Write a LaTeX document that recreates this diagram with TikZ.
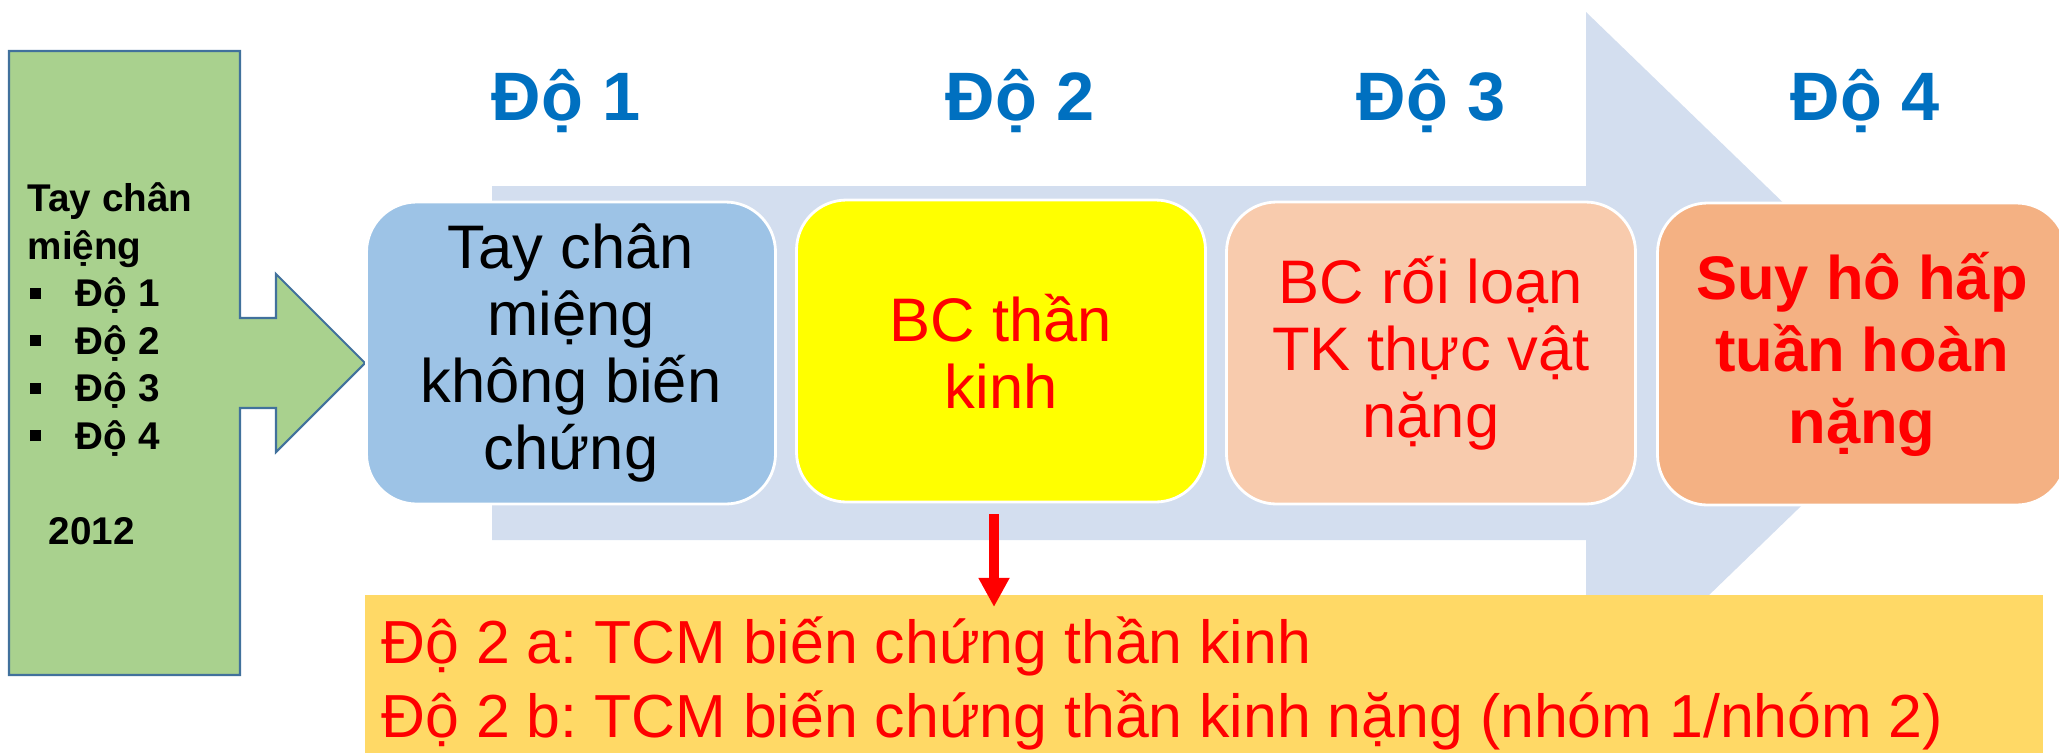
\documentclass[tikz,border=0pt]{standalone}
\usepackage{fontspec}
\setmainfont{Liberation Sans}
\usepackage{xcolor}
\usetikzlibrary{arrows.meta}

\definecolor{bandblue}{HTML}{D3DEEF}
\definecolor{stageone}{HTML}{9DC3E6}
\definecolor{stagetwo}{HTML}{FFFF00}
\definecolor{stagethree}{HTML}{F8CBAD}
\definecolor{stagefour}{HTML}{F4B183}
\definecolor{leafgreen}{HTML}{A9D18E}
\definecolor{edgeblue}{HTML}{41719C}
\definecolor{noteyellow}{HTML}{FFD966}
\definecolor{headblue}{HTML}{0070C0}

\newcommand{\gbullet}{\hspace*{0.6pt}\rule[2.3pt]{3.1pt}{3.1pt}\hspace*{10pt}}
\frenchspacing

\begin{document}
\begin{tikzpicture}[x=0.1mm,y=-0.1mm,
  stage/.style={draw=white, line width=0.8pt, rounded corners=5mm,
    minimum width=40.9mm, minimum height=30.2mm, align=center,
    font=\fontsize{17.5}{19}\selectfont},
  grade/.style={anchor=base, text=headblue, font=\fontsize{19.5}{24}\selectfont\bfseries},
  warn/.style={-{Triangle[length=8.3pt,width=8.3pt]}, red, line width=2.85pt}]
\useasboundingbox (0,0) rectangle (2059,752);

% pale arrow behind the stages
\fill[bandblue] (492,186) -- (1586,186) -- (1586,12) -- (1949,363)
  -- (1586,714) -- (1586,540) -- (492,540) -- cycle;

% green box and its arrow
\filldraw[fill=leafgreen, draw=edgeblue, line width=0.6pt] (9,51) -- (240,51) -- (240,318)
  -- (276,318) -- (276,274) -- (365,363) -- (276,452) -- (276,408) -- (240,408)
  -- (240,675) -- (9,675) -- cycle;
% (base anchor sits on the last line)
\node[anchor=base west, inner sep=0pt, align=left, font=\fontsize{11}{13.5}\selectfont\bfseries] (intro) at (27,544)
  {Tay chân\\miệng\\\gbullet Độ 1\\\gbullet Độ 2\\\gbullet Độ 3\\\gbullet Độ 4\\[13.5pt]\hspace*{6pt}2012};

% grade headings
\node[grade] (g1) at (566,120) {Độ 1};
\node[grade] (g2) at (1020,120) {Độ 2};
\node[grade] (g3) at (1431,120) {Độ 3};
\node[grade] (g4) at (1865,120) {Độ 4};

% stages
\node[stage, fill=stageone] (s1) at (571,353) {Tay chân\\miệng\\không biến\\chứng};
\node[stage, fill=stagetwo, text=red] (s2) at (1001,351) {BC thần\\kinh};
\node[stage, fill=stagethree, text=red] (s3) at (1431,353) {BC rối loạn\\TK thực vật\\nặng};
\node[stage, fill=stagefour, text=red, font=\fontsize{17.5}{20.5}\selectfont\bfseries] (s4) at (1862,354)
  {Suy hô hấp\\tuần hoàn\\nặng};

% note under grade 2
\node[fill=noteyellow, inner sep=0pt, minimum width=167.8mm, minimum height=17mm, anchor=north west] (note) at (364,594) {};
\node[anchor=base west, inner sep=0pt, align=left, text=red, font=\fontsize{17.3}{21}\selectfont] (notetext) at (381,737)
  {Độ 2 a: TCM biến chứng thần kinh\\Độ 2 b: TCM biến chứng thần kinh nặng (nhóm 1/nhóm 2)};

\path (s2.south) ++(-7,11) coordinate (drop);
\path (drop |- note.north) ++(0,13) coordinate (tip);
\draw[warn] (drop) -- (tip);
\end{tikzpicture}
\end{document}
